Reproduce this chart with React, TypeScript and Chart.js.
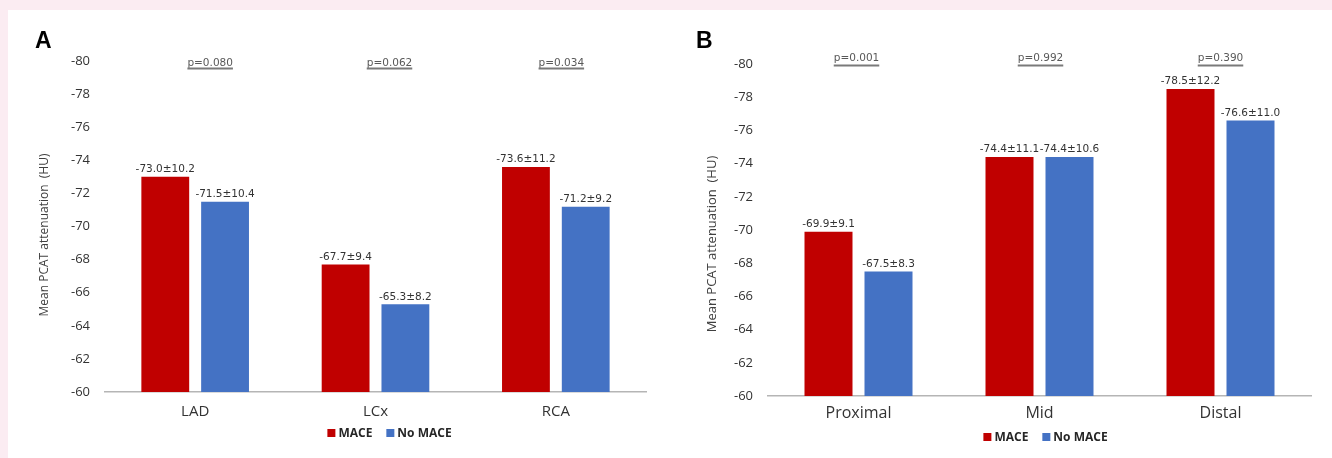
import React, { useEffect, useRef } from "react";
import { Chart, registerables } from "chart.js";

Chart.register(...registerables);

// ---------------- data ----------------
const seriesLabels = ["MACE", "No MACE"];
const seriesColors = ["#C00000", "#4472C4"];

const categoriesA = ["LAD", "LCx", "RCA"];
const maceA = [-73.0, -67.7, -73.6];
const maceSdA = [10.2, 9.4, 11.2];
const noMaceA = [-71.5, -65.3, -71.2];
const noMaceSdA = [10.4, 8.2, 9.2];
const pValuesA = ["p=0.080", "p=0.062", "p=0.034"];

const categoriesB = ["Proximal", "Mid", "Distal"];
const maceB = [-69.9, -74.4, -78.5];
const maceSdB = [9.1, 11.1, 12.2];
const noMaceB = [-67.5, -74.4, -76.6];
const noMaceSdB = [8.3, 10.6, 11.0];
const pValuesB = ["p=0.001", "p=0.992", "p=0.390"];

const yMin = -80;
const yMax = -60;
const yStep = 2;
const yTitle = "Mean PCAT attenuation  (HU)";

// ---------------- annotations plugin ----------------
const annotPlugin = {
  id: "annot",
  afterDatasetsDraw(chart: any, _args: any, opts: any) {
    const ctx: CanvasRenderingContext2D = chart.ctx;
    const area = chart.chartArea;
    ctx.save();

    // value labels
    ctx.font = '10.5px "DejaVu Sans"';
    ctx.fillStyle = "#333333";
    ctx.textAlign = "center";
    ctx.textBaseline = "alphabetic";
    chart.data.datasets.forEach((ds: any, di: number) => {
      const meta = chart.getDatasetMeta(di);
      meta.data.forEach((bar: any, i: number) => {
        const v = ds.data[i] as number;
        const sd = opts.sds[di][i] as number;
        ctx.fillText(v.toFixed(1) + "\u00b1" + sd.toFixed(1), bar.x, bar.y - 4.5);
      });
    });

    // p-values with underline
    const xs = chart.scales.x;
    ctx.font = '10.5px "DejaVu Sans"';
    opts.pValues.forEach((p: string, i: number) => {
      const cx = xs.getPixelForValue(i) + opts.pOffsets[i];
      const w = ctx.measureText(p).width;
      ctx.fillStyle = "#595959";
      ctx.fillText(p, cx, opts.pBaseline);
      ctx.fillStyle = "#7a7a7a";
      ctx.fillRect(cx - w / 2, opts.pLineY, w, 2);
    });

    // y-axis title
    ctx.save();
    ctx.translate(opts.titleX, opts.titleY);
    ctx.rotate(-Math.PI / 2);
    ctx.font = `${opts.titleSize}px "Open Sans"`;
    ctx.fillStyle = "#404040";
    ctx.textAlign = "center";
    ctx.textBaseline = "middle";
    ctx.fillText(yTitle, 0, 0);
    ctx.restore();

    // legend
    ctx.font = 'bold 12px "Open Sans"';
    ctx.textAlign = "left";
    ctx.textBaseline = "alphabetic";
    const box = 8;
    const gap = 3;
    const itemGap = 14;
    const widths = chart.data.datasets.map((ds: any) => box + gap + ctx.measureText(ds.label).width);
    const total = widths.reduce((a: number, b: number) => a + b, 0) + itemGap * (widths.length - 1);
    let lx = (area.left + area.right) / 2 + opts.legendShift - total / 2;
    chart.data.datasets.forEach((ds: any, di: number) => {
      ctx.fillStyle = ds.backgroundColor;
      ctx.fillRect(lx, opts.legendY - box / 2, box, box);
      ctx.fillStyle = "#262626";
      ctx.fillText(ds.label, lx + box + gap, opts.legendY + 4.3);
      lx += widths[di] + itemGap;
    });

    // panel letter
    ctx.font = 'bold 23px "Liberation Sans"';
    ctx.fillStyle = "#000000";
    ctx.textAlign = "left";
    ctx.textBaseline = "alphabetic";
    ctx.fillText(opts.letter, opts.letterX, opts.letterY);

    ctx.restore();
  },
};

type PanelProps = {
  width: number;
  height: number;
  left: number;
  top: number;
  categories: string[];
  mace: number[];
  noMace: number[];
  maceSd: number[];
  noMaceSd: number[];
  pValues: string[];
  annot: any;
  pad: { top: number; right: number; bottom: number };
  yAxisWidth: number;
  catFontSize: number;
  catPadding: number;
};

function BarPanel(props: PanelProps) {
  const ref = useRef<HTMLCanvasElement | null>(null);
  useEffect(() => {
    if (!ref.current) return;
    const chart = new Chart(ref.current, {
      type: "bar",
      data: {
        labels: props.categories,
        datasets: [
          {
            label: seriesLabels[0],
            data: props.mace,
            backgroundColor: seriesColors[0],
            borderWidth: 0,
            categoryPercentage: 0.663,
            barPercentage: 0.8,
          },
          {
            label: seriesLabels[1],
            data: props.noMace,
            backgroundColor: seriesColors[1],
            borderWidth: 0,
            categoryPercentage: 0.663,
            barPercentage: 0.8,
          },
        ],
      },
      options: {
        responsive: false,
        animation: false,
        devicePixelRatio: 1,
        layout: { padding: { left: 0, top: props.pad.top, right: props.pad.right, bottom: props.pad.bottom } },
        plugins: {
          legend: { display: false },
          tooltip: { enabled: false },
          annot: {
            ...props.annot,
            sds: [props.maceSd, props.noMaceSd],
            pValues: props.pValues,
          },
        } as any,
        scales: {
          x: {
            type: "category",
            grid: { display: false, drawTicks: false },
            border: { display: true, color: "#b5b5b5", width: 1.5 },
            ticks: {
              color: "#333333",
              font: { family: "Open Sans", size: props.catFontSize },
              padding: props.catPadding,
              maxRotation: 0,
            },
            afterFit: (s: any) => {
              s.height = 40;
            },
          },
          y: {
            min: yMin,
            max: yMax,
            reverse: true,
            grid: { display: false, drawTicks: false },
            border: { display: false },
            ticks: {
              stepSize: yStep,
              color: "#333333",
              font: { family: "Open Sans", size: 13 },
              padding: 15,
            },
            afterFit: (s: any) => {
              s.width = props.yAxisWidth;
            },
          },
        },
      },
      plugins: [annotPlugin as any],
    });
    const fonts: any = (document as any).fonts;
    if (fonts && fonts.ready) fonts.ready.then(() => chart.update());
    return () => chart.destroy();
  }, []);
  return (
    <canvas
      ref={ref}
      width={props.width}
      height={props.height}
      style={{ position: "absolute", left: props.left, top: props.top, width: props.width, height: props.height }}
    />
  );
}

export default function App() {
  return (
    <div
      style={{
        position: "fixed",
        left: 0,
        top: 0,
        width: 1332,
        height: 458,
        background: "#fbecf2",
        overflow: "hidden",
      }}
    >
      <div style={{ position: "absolute", left: 8, top: 10, width: 1324, height: 448, background: "#ffffff" }} />
      <BarPanel
        width={660}
        height={448}
        left={8}
        top={10}
        categories={categoriesA}
        mace={maceA}
        noMace={noMaceA}
        maceSd={maceSdA}
        noMaceSd={noMaceSdA}
        pValues={pValuesA}
        pad={{ top: 51, right: 22, bottom: 26 }}
        yAxisWidth={97}
        catFontSize={15}
        catPadding={11}
        annot={{
          pOffsets: [15, 14, 5.5],
          pBaseline: 55.5,
          pLineY: 57.5,
          titleX: 37,
          titleY: 225,
          titleSize: 12,
          legendY: 423,
          legendShift: 14,
          letter: "A",
          letterX: 27,
          letterY: 38.3,
        }}
      />
      <BarPanel
        width={664}
        height={448}
        left={668}
        top={10}
        categories={categoriesB}
        mace={maceB}
        noMace={noMaceB}
        maceSd={maceSdB}
        noMaceSd={noMaceSdB}
        pValues={pValuesB}
        pad={{ top: 54, right: 21, bottom: 22 }}
        yAxisWidth={100}
        catFontSize={16}
        catPadding={8}
        annot={{
          pOffsets: [-2, 1, 0],
          pBaseline: 51.3,
          pLineY: 54.5,
          titleX: 44.5,
          titleY: 234,
          titleSize: 13,
          legendY: 427,
          legendShift: 6,
          letter: "B",
          letterX: 28,
          letterY: 37.7,
        }}
      />
    </div>
  );
}
